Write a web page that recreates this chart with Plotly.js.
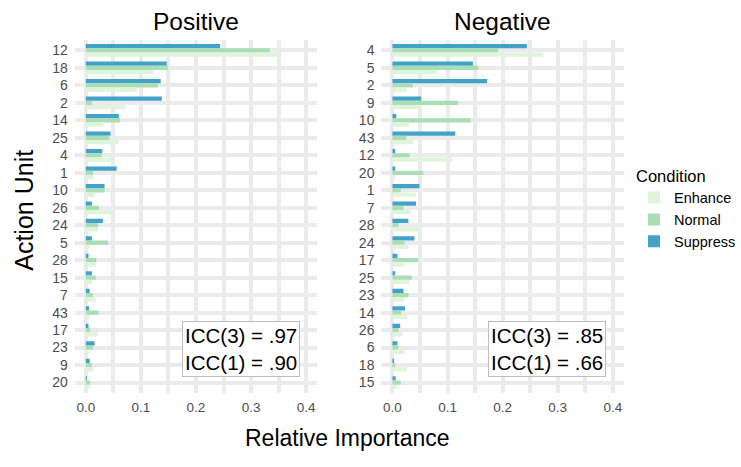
<!DOCTYPE html>
<html>
<head>
<meta charset="utf-8">
<script src="https://cdn.plot.ly/plotly-3.0.1.min.js"></script>
<style>html,body{margin:0;padding:0;background:#fff;}#chart{width:741px;height:467px;}</style>
</head>
<body>
<div id="chart"></div>
<script>
// Positive panel
const posUnits = ["12","18","6","2","14","25","4","1","10","26","24","5","28","15","7","43","17","23","9","20"];
const posSuppress = [0.244,0.147,0.136,0.138,0.060,0.045,0.030,0.056,0.034,0.011,0.031,0.011,0.005,0.011,0.007,0.006,0.005,0.016,0.007,0.002];
const posNormal   = [0.334,0.149,0.131,0.011,0.062,0.043,0.029,0.013,0.034,0.024,0.022,0.040,0.019,0.018,0.013,0.023,0.008,0.013,0.011,0.008];
const posEnhance  = [0.347,0.123,0.094,0.071,0.032,0.060,0.053,0.014,0.016,0.049,0.022,0.007,0.019,0.012,0.019,0.007,0.022,0.006,0.014,0.006];
// Negative panel
const negUnits = ["4","5","2","9","10","43","12","20","1","7","28","24","17","25","23","14","26","6","18","15"];
const negSuppress = [0.244,0.146,0.172,0.052,0.007,0.114,0.005,0.005,0.049,0.043,0.029,0.040,0.009,0.005,0.020,0.023,0.014,0.009,0.003,0.006];
const negNormal   = [0.192,0.156,0.037,0.119,0.142,0.025,0.031,0.056,0.015,0.020,0.011,0.022,0.047,0.035,0.029,0.016,0.011,0.011,0.005,0.015];
const negEnhance  = [0.274,0.081,0.025,0.051,0.030,0.038,0.109,0.005,0.043,0.034,0.049,0.029,0.022,0.030,0.021,0.027,0.018,0.022,0.026,0.009];

// drawn top-to-bottom within each group: Suppress, Normal, Enhance
const conditions = ["Suppress","Normal","Enhance"];
const legendRank = {Enhance:1, Normal:2, Suppress:3};
const colors = {Enhance:"#e0f3db", Normal:"#a8ddb5", Suppress:"#43a2ca"};
const xTicks = [0,0.1,0.2,0.3,0.4];
const xTickText = ["0.0","0.1","0.2","0.3","0.4"];
const iccPos = "ICC(3) = .97<br>ICC(1) = .90";
const iccNeg = "ICC(3) = .85<br>ICC(1) = .66";

const posData = {Enhance:posEnhance, Normal:posNormal, Suppress:posSuppress};
const negData = {Enhance:negEnhance, Normal:negNormal, Suppress:negSuppress};

const traces = [];
conditions.forEach(c => {
  traces.push({type:"bar", orientation:"h", name:c, x:posData[c], y:posUnits,
    marker:{color:colors[c]}, xaxis:"x", yaxis:"y", legendgroup:c, legendrank:legendRank[c], showlegend:true});
});
conditions.forEach(c => {
  traces.push({type:"bar", orientation:"h", name:c, x:negData[c], y:negUnits,
    marker:{color:colors[c]}, xaxis:"x2", yaxis:"y2", legendgroup:c, showlegend:false});
});

const FONT = "Liberation Sans, Arial, Helvetica, sans-serif";
const grid = "#ebebeb";
const xaxisBase = {
  range:[-0.02,0.42], tickvals:xTicks, ticktext:xTickText, showgrid:true, gridcolor:grid, gridwidth:4,
  zeroline:false, showline:false, ticks:"", ticklabelstandoff:4, tickfont:{size:13.5, color:"#4d4d4d", family:FONT},
  minor:{dtick:0.05, tick0:0, showgrid:true, gridcolor:grid, gridwidth:4}, fixedrange:true
};
const yaxisBase = {
  type:"category", range:[19.6,-0.6], showgrid:true, gridcolor:grid, gridwidth:4, zeroline:false,
  showline:false, ticks:"", ticklabelstandoff:6, tickfont:{size:14, color:"#4d4d4d", family:FONT}, fixedrange:true
};

const W = 741, H = 467;
const T = 39.5, B = H - 393.5;
const PH = 393.5 - 39.5;
const layout = {
  width:W, height:H, paper_bgcolor:"#fff", plot_bgcolor:"#fff",
  margin:{l:0, r:0, t:T, b:B, pad:0},
  font:{family:FONT},
  barmode:"group", bargap:0.27, bargroupgap:0,
  showlegend:true,
  legend:{x:641/W, xanchor:"left", y:(393.5-160)/PH, yanchor:"top",
    traceorder:"normal", title:{text:"Condition", font:{size:16.5, color:"#000"}},
    font:{size:14.5, color:"#000", family:FONT}, bgcolor:"rgba(0,0,0,0)", tracegroupgap:0},
  xaxis:Object.assign({}, xaxisBase, {domain:[75.6/W, 320.6/W], anchor:"y"}),
  xaxis2:Object.assign({}, xaxisBase, {domain:[385.6/W, 630.6/W], anchor:"y2"}),
  yaxis:Object.assign({}, yaxisBase, {domain:[0,1], anchor:"x", categoryorder:"array", categoryarray:posUnits}),
  yaxis2:Object.assign({}, yaxisBase, {domain:[0,1], anchor:"x2", categoryorder:"array", categoryarray:negUnits}),
  annotations:[
    {text:"Positive", xref:"x domain", yref:"paper", x:0.5, y:1, yshift:3, xanchor:"center", yanchor:"bottom",
     showarrow:false, font:{size:24.5, color:"#000", family:FONT}},
    {text:"Negative", xref:"x2 domain", yref:"paper", x:0.5, y:1, yshift:3, xanchor:"center", yanchor:"bottom",
     showarrow:false, font:{size:24.5, color:"#000", family:FONT}},
    {text:"Action Unit", xref:"paper", yref:"paper", x:24/W, y:(393.5-210)/PH, xanchor:"center", yanchor:"middle",
     textangle:-90, showarrow:false, font:{size:25, color:"#000", family:FONT}},
    {text:"Relative Importance", xref:"paper", yref:"paper", x:351/W, y:(393.5-439)/PH, xanchor:"center", yanchor:"middle",
     showarrow:false, font:{size:23, color:"#000", family:FONT}},
    {text:iccPos, xref:"paper", yref:"paper", x:303/W, y:(393.5-377)/PH, xanchor:"right", yanchor:"bottom",
     showarrow:false, align:"left", font:{size:20.5, color:"#000", family:FONT},
     bgcolor:"#fff", bordercolor:"#bdbdbd", borderwidth:1, borderpad:2},
    {text:iccNeg, xref:"paper", yref:"paper", x:613/W, y:(393.5-377)/PH, xanchor:"right", yanchor:"bottom",
     showarrow:false, align:"left", font:{size:20.5, color:"#000", family:FONT},
     bgcolor:"#fff", bordercolor:"#bdbdbd", borderwidth:1, borderpad:2}
  ]
};

Plotly.newPlot("chart", traces, layout, {displayModeBar:false, staticPlot:true});
</script>
</body>
</html>
